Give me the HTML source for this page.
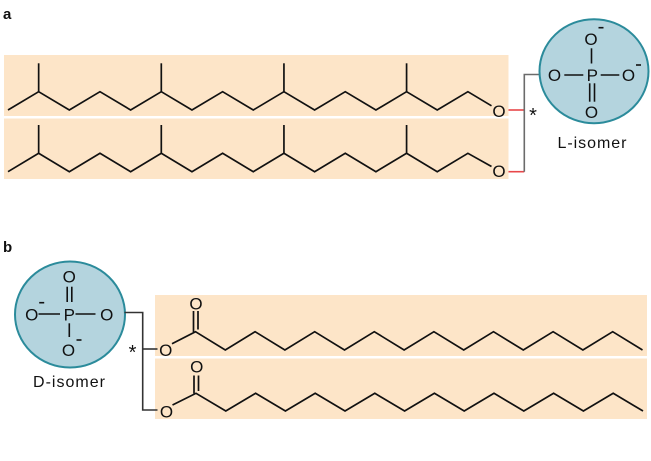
<!DOCTYPE html>
<html>
<head>
<meta charset="utf-8">
<style>
html,body{margin:0;padding:0;background:#fff;}
svg{display:block;}
text{font-family:"Liberation Sans",sans-serif;fill:#111;}
</style>
</head>
<body>
<svg width="651" height="461" viewBox="0 0 651 461" xmlns="http://www.w3.org/2000/svg">
  <!-- Panel labels -->
  <text x="3" y="19" font-size="15" font-weight="bold">a</text>
  <text x="3" y="252" font-size="15" font-weight="bold">b</text>

  <!-- Panel a bands -->
  <rect x="4" y="55" width="504.5" height="61" fill="#fde5c8"/>
  <rect x="4" y="118.5" width="504.5" height="60.5" fill="#fde5c8"/>

  <!-- Chain a1 -->
  <g fill="none" stroke="#111" stroke-width="1.7" stroke-linejoin="miter">
    <polyline points="8,110 38.66,91.7 69.32,110 99.98,91.7 130.64,110 161.3,91.7 191.96,110 222.62,91.7 253.28,110 283.94,91.7 314.6,110 345.26,91.7 375.92,110 406.58,91.7 437.24,110 467.9,91.7 491.5,105.8"/>
    <line x1="38.66" y1="91.7" x2="38.66" y2="63.3"/>
    <line x1="161.3" y1="91.7" x2="161.3" y2="63.3"/>
    <line x1="283.94" y1="91.7" x2="283.94" y2="63.3"/>
    <line x1="406.58" y1="91.7" x2="406.58" y2="63.3"/>
    <!-- Chain a2 -->
    <polyline points="8,171.7 38.66,153.3 69.32,171.7 99.98,153.3 130.64,171.7 161.3,153.3 191.96,171.7 222.62,153.3 253.28,171.7 283.94,153.3 314.6,171.7 345.26,153.3 375.92,171.7 406.58,153.3 437.24,171.7 467.9,153.3 491.5,166.5"/>
    <line x1="38.66" y1="153.3" x2="38.66" y2="125"/>
    <line x1="161.3" y1="153.3" x2="161.3" y2="125"/>
    <line x1="283.94" y1="153.3" x2="283.94" y2="125"/>
    <line x1="406.58" y1="153.3" x2="406.58" y2="125"/>
  </g>
  <text x="499" y="116.8" font-size="17" text-anchor="middle">O</text>
  <text x="499" y="176.8" font-size="17" text-anchor="middle">O</text>

  <!-- Connector a -->
  <g fill="none" stroke-width="1.6">
    <line x1="508.5" y1="110" x2="524.3" y2="110" stroke="#e8474a"/>
    <line x1="508.5" y1="171.7" x2="524.3" y2="171.7" stroke="#e8474a"/>
    <polyline points="524.3,171.7 524.3,74.5 541,74.5" stroke="#6b6b6b"/>
  </g>
  <text x="533" y="122" font-size="20" text-anchor="middle">*</text>

  <!-- Phosphate a -->
  <ellipse cx="594" cy="71.2" rx="54.5" ry="52" fill="#b4d4de" stroke="#2b8b9b" stroke-width="2"/>
  <g stroke="#111" stroke-width="1.6" fill="none">
    <line x1="591.5" y1="48.3" x2="591.5" y2="63.5"/>
    <line x1="564.3" y1="75" x2="583.3" y2="75"/>
    <line x1="600.7" y1="75" x2="619.3" y2="75"/>
    <line x1="589.7" y1="83.3" x2="589.7" y2="101.7"/>
    <line x1="594.5" y1="83.3" x2="594.5" y2="101.7"/>
    <line x1="598.5" y1="27.7" x2="603.5" y2="27.7"/>
    <line x1="636" y1="65" x2="641" y2="65"/>
  </g>
  <text x="591" y="45" font-size="17" text-anchor="middle">O</text>
  <text x="592.3" y="81" font-size="17" text-anchor="middle">P</text>
  <text x="554.5" y="81" font-size="17" text-anchor="middle">O</text>
  <text x="628.5" y="81" font-size="17" text-anchor="middle">O</text>
  <text x="591.5" y="118.2" font-size="17" text-anchor="middle">O</text>
  <text x="592" y="148" font-size="16" text-anchor="middle" textLength="69" lengthAdjust="spacing">L-isomer</text>

  <!-- Panel b bands -->
  <rect x="155" y="295" width="492" height="61" fill="#fde5c8"/>
  <rect x="155" y="358.5" width="492" height="60.5" fill="#fde5c8"/>

  <!-- Phosphate b -->
  <ellipse cx="70" cy="314.5" rx="55" ry="53" fill="#b4d4de" stroke="#2b8b9b" stroke-width="2"/>
  <g stroke="#111" stroke-width="1.6" fill="none">
    <line x1="67.2" y1="286.7" x2="67.2" y2="302"/>
    <line x1="71.8" y1="286.7" x2="71.8" y2="302"/>
    <line x1="38.5" y1="314" x2="60" y2="314"/>
    <line x1="75.5" y1="314" x2="95.5" y2="314"/>
    <line x1="69.3" y1="323.3" x2="69.3" y2="337"/>
    <line x1="39.2" y1="302.7" x2="44.2" y2="302.7"/>
    <line x1="76.5" y1="340" x2="81.5" y2="340"/>
  </g>
  <text x="69.3" y="282.7" font-size="17" text-anchor="middle">O</text>
  <text x="69.3" y="320.3" font-size="17" text-anchor="middle">P</text>
  <text x="31.7" y="320.3" font-size="17" text-anchor="middle">O</text>
  <text x="106.7" y="320.3" font-size="17" text-anchor="middle">O</text>
  <text x="68.5" y="356" font-size="17" text-anchor="middle">O</text>
  <text x="69" y="387" font-size="16" text-anchor="middle" textLength="72" lengthAdjust="spacing">D-isomer</text>

  <!-- Connector b -->
  <g fill="none" stroke="#333" stroke-width="1.6">
    <polyline points="124.5,312.5 142.7,312.5 142.7,410 157.5,410"/>
    <line x1="142.7" y1="349" x2="157.5" y2="349"/>
  </g>
  <text x="132.5" y="359" font-size="20" text-anchor="middle">*</text>

  <!-- Chain b1 -->
  <g fill="none" stroke="#111" stroke-width="1.7" stroke-linejoin="miter">
    <polyline points="172,343.8 195.5,331.7 225.3,350 255.1,331.7 284.9,350 314.7,331.7 344.5,350 374.3,331.7 404.1,350 433.9,331.7 463.7,350 493.5,331.7 523.3,350 553.1,331.7 582.9,350 612.7,331.7 642.5,350"/>
    <line x1="193.5" y1="311" x2="193.5" y2="332"/>
    <line x1="198" y1="311" x2="198" y2="329.5"/>
    <!-- Chain b2 -->
    <polyline points="172.5,405 196,393.3 225.8,411 255.6,393.3 285.4,411 315.2,393.3 345,411 374.8,393.3 404.6,411 434.4,393.3 464.2,411 494,393.3 523.8,411 553.6,393.3 583.4,411 613.2,393.3 643,411"/>
    <line x1="194" y1="375.5" x2="194" y2="393.5"/>
    <line x1="198.5" y1="375.5" x2="198.5" y2="391"/>
  </g>
  <text x="165.8" y="356" font-size="17" text-anchor="middle">O</text>
  <text x="196" y="309.7" font-size="17" text-anchor="middle">O</text>
  <text x="166.5" y="417.6" font-size="17" text-anchor="middle">O</text>
  <text x="196.8" y="372.7" font-size="17" text-anchor="middle">O</text>
</svg>
</body>
</html>
